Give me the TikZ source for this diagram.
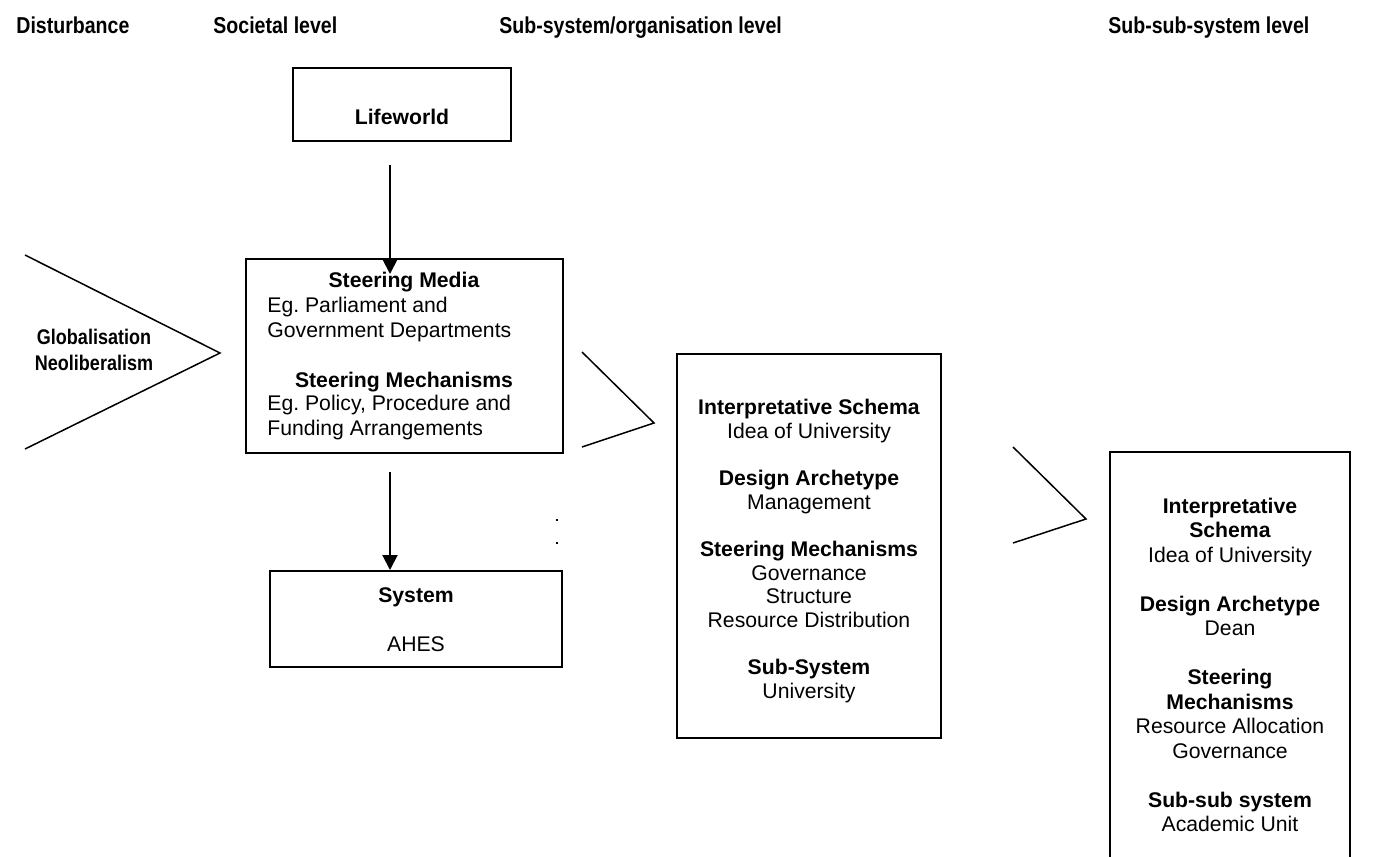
\documentclass[tikz,border=0pt]{standalone}
\usepackage{fontspec}
\setmainfont{Liberation Sans}
\newfontfamily\narrowbold[FakeStretch=0.85]{Liberation Sans Bold}
\usetikzlibrary{arrows.meta,calc}
\frenchspacing
\begin{document}
\begin{tikzpicture}[x=0.5pt,y=-0.5pt,
  box/.style={draw,line width=1pt,inner sep=0pt},
  txt/.style={inner sep=0pt,align=center,font=\fontsize{10.6}{12.25}\selectfont},
  bold/.style={txt,font=\fontsize{10.6}{12.25}\selectfont\bfseries},
  hdr/.style={inner sep=0pt,anchor=base west,font=\fontsize{11.5}{13}\narrowbold},
  arr/.style={line width=1pt,-{Triangle[width=7.5pt,length=7.5pt]}},
  chev/.style={line width=0.75pt}]
\path[use as bounding box] (0,0) rectangle (1393,857);
\clip (0,0) rectangle (1393,857);

% column headings, on one common baseline
\node[hdr] (h1) at (16,33) {Disturbance};
\node[hdr] (h2) at (213,33) {Societal level};
\node[hdr] (h3) at (499,33) {Sub-system/organisation level};
\node[hdr] (h4) at (1108,33) {Sub-sub-system level};

% disturbance chevron
\draw[chev] (25,255) -- (220,353) -- (25,449);
\node[txt,font=\fontsize{10.6}{13}\narrowbold] (dist) at (94,350) {Globalisation\\Neoliberalism};

% societal level
\node[box,minimum width=109pt,minimum height=36.5pt] (lw) at (402,104.5) {};
\node[bold] (lwt) at (402,117) {Lifeworld};

\node[box,minimum width=158.5pt,minimum height=97pt] (sm) at (404.5,356) {};
\node[bold] (smh1) at (404,282) {Steering Media};
\node[txt,anchor=west,align=left] (smb1) at (267,319.5) {Eg. Parliament and\\Government Departments};
\node[bold] (smh2) at (404,382) {Steering Mechanisms};
\node[txt,anchor=west,align=left] (smb2) at (267,417.5) {Eg. Policy, Procedure and\\Funding Arrangements};

\node[box,minimum width=146pt,minimum height=48pt] (sys) at (416,619) {};
\node[txt] (syst) at (416,620) {\textbf{System}\\[12.25pt]AHES};

\coordinate (ax) at (390,0);
\draw[arr] ($(lw.south -| ax)+(0,23)$) -- ($(sm.north -| ax)+(0,16)$);
\draw[arr] ($(sm.south -| ax)+(0,18)$) -- (sys.north -| ax);

% two small marks
\fill (556,519) rectangle (558,521);
\fill (556,542) rectangle (558,544);

% organisation level
\draw[chev] (582,352) -- (654,423) -- (582,447);
\node[box,minimum width=132pt,minimum height=192pt] (mid) at (809,546) {};
\node[txt,font=\fontsize{10.6}{11.8}\selectfont] (midt) at (809,551) {%
\textbf{Interpretative Schema}\\Idea of University\\[11.8pt]
\textbf{Design Archetype}\\Management\\[11.8pt]
\textbf{Steering Mechanisms}\\Governance\\Structure\\Resource Distribution\\[11.8pt]
\textbf{Sub-System}\\University};

% sub-sub-system level
\draw[chev] (1013,447) -- (1086,519) -- (1013,543);
\node[box,minimum width=120pt,minimum height=224pt] (rt) at (1230,676) {};
\node[txt] (rtt) at (1230,665) {%
\textbf{Interpretative}\\\textbf{Schema}\\Idea of University\\[12.25pt]
\textbf{Design Archetype}\\Dean\\[12.25pt]
\textbf{Steering}\\\textbf{Mechanisms}\\Resource Allocation\\Governance\\[12.25pt]
\textbf{Sub-sub system}\\Academic Unit};
\end{tikzpicture}
\end{document}
